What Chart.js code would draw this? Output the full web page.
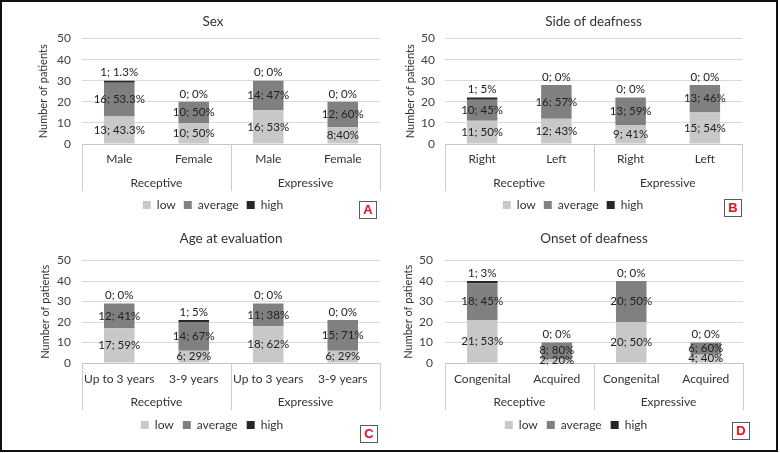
<!DOCTYPE html>
<html>
<head>
<meta charset="utf-8">
<title>Resultados por grupo</title>
<script src="https://cdn.jsdelivr.net/npm/chart.js@4.4.0/dist/chart.umd.min.js"></script>
<style>
    html, body { margin: 0; padding: 0; background: #fff; }
    #lienzo { position: relative; width: 780px; height: 453px; overflow: hidden; }
    .panel { position: absolute; width: 390px; height: 226px; }
    .marco { position: absolute; left: 0; top: 0; width: 774px; height: 448px; border: 2px solid #111; pointer-events: none; }
    .letra { position: absolute; width: 16px; height: 16px; border: 1px solid #5a5a5a; background: #fff;
             font: bold 13px 'Liberation Sans', Arial, sans-serif; color: #e3102f; text-align: center; line-height: 16px; }
</style>
</head>
<body>
<div id="lienzo">
    <div class="panel" style="left:0;top:0"><canvas id="graficaA"></canvas></div>
    <div class="panel" style="left:390px;top:0"><canvas id="graficaB"></canvas></div>
    <div class="panel" style="left:0;top:226px"><canvas id="graficaC"></canvas></div>
    <div class="panel" style="left:390px;top:226px"><canvas id="graficaD"></canvas></div>
    <div class="letra" style="left:359px;top:201px">A</div>
    <div class="letra" style="left:724px;top:199px">B</div>
    <div class="letra" style="left:360px;top:425px">C</div>
    <div class="letra" style="left:732px;top:422px">D</div>
    <div class="marco"></div>
</div>
<script>
// Datos comunes
var grupos = ['Receptive', 'Expressive'];
var series = ['low', 'average', 'high'];

// Panel A: sexo
var sexoCategorias = ['Male', 'Female', 'Male', 'Female'];
var sexoBajo = [13, 10, 16, 8];
var sexoMedio = [16, 10, 14, 12];
var sexoAlto = [1, 0, 0, 0];
var sexoTextoBajo = ['13; 43.3%', '10; 50%', '16; 53%', '8;40%'];
var sexoTextoMedio = ['16; 53.3%', '10; 50%', '14; 47%', '12; 60%'];
var sexoTextoAlto = ['1; 1.3%', '0; 0%', '0; 0%', '0; 0%'];

// Panel B: lado de la sordera
var ladoCategorias = ['Right', 'Left', 'Right', 'Left'];
var ladoBajo = [11, 12, 9, 15];
var ladoMedio = [10, 16, 13, 13];
var ladoAlto = [1, 0, 0, 0];
var ladoTextoBajo = ['11; 50%', '12; 43%', '9; 41%', '15; 54%'];
var ladoTextoMedio = ['10; 45%', '16; 57%', '13; 59%', '13; 46%'];
var ladoTextoAlto = ['1; 5%', '0; 0%', '0; 0%', '0; 0%'];

// Panel C: edad en la evaluación
var edadCategorias = ['Up to 3 years', '3-9 years', 'Up to 3 years', '3-9 years'];
var edadBajo = [17, 6, 18, 6];
var edadMedio = [12, 14, 11, 15];
var edadAlto = [0, 1, 0, 0];
var edadTextoBajo = ['17; 59%', '6; 29%', '18; 62%', '6; 29%'];
var edadTextoMedio = ['12; 41%', '14; 67%', '11; 38%', '15; 71%'];
var edadTextoAlto = ['0; 0%', '1; 5%', '0; 0%', '0; 0%'];

// Panel D: inicio de la sordera
var inicioCategorias = ['Congenital', 'Acquired', 'Congenital', 'Acquired'];
var inicioBajo = [21, 2, 20, 4];
var inicioMedio = [18, 8, 20, 6];
var inicioAlto = [1, 0, 0, 0];
var inicioTextoBajo = ['21; 53%', '2; 20%', '20; 50%', '4; 40%'];
var inicioTextoMedio = ['18; 45%', '8; 80%', '20; 50%', '6; 60%'];
var inicioTextoAlto = ['1; 3%', '0; 0%', '0; 0%', '0; 0%'];

Chart.defaults.font.family = "Lato, 'Noto Sans', sans-serif";
Chart.defaults.color = '#333333';

// Etiquetas "n; %" sobre cada segmento
var etiquetas = {
    id: 'etiquetas',
    afterDatasetsDraw: function (chart) {
        var ctx = chart.ctx;
        ctx.save();
        ctx.font = '11.5px Lato';
        ctx.fillStyle = '#222222';
        ctx.textAlign = 'center';
        ctx.textBaseline = 'middle';
        chart.data.datasets.forEach(function (ds, i) {
            chart.getDatasetMeta(i).data.forEach(function (barra, j) {
                var y = i === 2 ? barra.y - 8 : (barra.y + barra.base) / 2;
                ctx.fillText(ds.textos[j], barra.x, y);
            });
        });
        ctx.restore();
    }
};

// Líneas verticales de la tabla de categorías (estilo Excel)
var separadores = {
    id: 'separadores',
    afterDraw: function (chart) {
        var area = chart.chartArea;
        var x = chart.scales.x;
        var fin = chart.scales.x2.bottom;
        var medio = (x.getPixelForValue(1) + x.getPixelForValue(2)) / 2;
        var ctx = chart.ctx;
        ctx.save();
        ctx.strokeStyle = '#cccccc';
        ctx.lineWidth = 1;
        ctx.beginPath();
        [area.left, medio, area.right].forEach(function (px) {
            ctx.moveTo(Math.round(px) + 0.5, area.bottom);
            ctx.lineTo(Math.round(px) + 0.5, fin);
        });
        ctx.stroke();
        ctx.restore();
    }
};

function crearPanel(id, titulo, categorias, bajo, medio, alto, textoBajo, textoMedio, textoAlto, d) {
    var ctx = document.getElementById(id).getContext('2d');
    return new Chart(ctx, {
        type: 'bar',
        data: {
            labels: categorias,
            datasets: [
                { label: series[0], data: bajo, textos: textoBajo, backgroundColor: '#c8c8c8' },
                { label: series[1], data: medio, textos: textoMedio, backgroundColor: '#808080' },
                { label: series[2], data: alto, textos: textoAlto, backgroundColor: '#262626' }
            ]
        },
        options: {
            responsive: true,
            maintainAspectRatio: false,
            animation: false,
            events: [],
            datasets: { bar: { barPercentage: 0.41, categoryPercentage: 1, borderWidth: 0 } },
            layout: { padding: { left: d.izq, right: d.der, top: 0, bottom: d.abajo } },
            plugins: {
                tooltip: { enabled: false },
                title: {
                    display: true,
                    text: titulo,
                    fullSize: d.tituloCompleto,
                    color: '#333333',
                    font: { size: 13.5, weight: 'normal' },
                    padding: { top: d.tituloArriba, bottom: d.tituloAbajo }
                },
                legend: {
                    position: 'bottom',
                    labels: { boxWidth: 8, boxHeight: 8, padding: d.leyenda, font: { size: 12 }, color: '#333333' }
                }
            },
            scales: {
                x: {
                    stacked: true,
                    offset: true,
                    grid: { display: false, drawTicks: false },
                    border: { display: false },
                    ticks: { padding: d.rellenoX, font: { size: 12 }, color: '#333333', maxRotation: 0, autoSkip: false },
                    afterFit: function (escala) { escala.height = 30; }
                },
                x2: {
                    axis: 'x',
                    type: 'category',
                    labels: grupos,
                    position: 'bottom',
                    offset: true,
                    grid: { display: false, drawTicks: false },
                    border: { display: false },
                    ticks: { padding: 1.8, font: { size: 12 }, color: '#333333', maxRotation: 0 },
                    afterFit: function (escala) { escala.height = 17; }
                },
                y: {
                    stacked: true,
                    min: 0,
                    max: 50,
                    ticks: { stepSize: 10, padding: d.rellenoY, font: { size: 12 }, color: '#404040' },
                    grid: {
                        drawTicks: false,
                        color: function (c) { return c.tick && c.tick.value === 0 ? '#c4c4c4' : '#d9d9d9'; }
                    },
                    border: { display: false },
                    title: {
                        display: true,
                        text: 'Number of patients',
                        font: { size: 11 },
                        color: '#333333',
                        padding: { top: d.ejeTitulo, bottom: 0 }
                    },
                    afterFit: function (escala) { escala.width = d.anchoY; }
                }
            }
        },
        plugins: [etiquetas, separadores]
    });
}

// Paneles superiores (área de trazado 38-144) e inferiores (34-137)
crearPanel('graficaA', 'Sex', sexoCategorias, sexoBajo, sexoMedio, sexoAlto,
    sexoTextoBajo, sexoTextoMedio, sexoTextoAlto,
    { izq: 46, der: 10, anchoY: 36, ejeTitulo: -9.6, rellenoY: 11, tituloCompleto: true,
      tituloArriba: 13.2, tituloAbajo: 9.2, rellenoX: 7.8, leyenda: 8, abajo: 5 });

crearPanel('graficaB', 'Side of deafness', ladoCategorias, ladoBajo, ladoMedio, ladoAlto,
    ladoTextoBajo, ladoTextoMedio, ladoTextoAlto,
    { izq: 14, der: 38, anchoY: 41, ejeTitulo: -0.6, rellenoY: 10, tituloCompleto: false,
      tituloArriba: 13.2, tituloAbajo: 9.2, rellenoX: 7.8, leyenda: 8, abajo: 5 });

crearPanel('graficaC', 'Age at evaluation', edadCategorias, edadBajo, edadMedio, edadAlto,
    edadTextoBajo, edadTextoMedio, edadTextoAlto,
    { izq: 44, der: 10, anchoY: 38, ejeTitulo: -5.6, rellenoY: 11, tituloCompleto: false,
      tituloArriba: 4.2, tituloAbajo: 14.2, rellenoX: 8.8, leyenda: 9, abajo: 11 });

crearPanel('graficaD', 'Onset of deafness', inicioCategorias, inicioBajo, inicioMedio, inicioAlto,
    inicioTextoBajo, inicioTextoMedio, inicioTextoAlto,
    { izq: 19, der: 37, anchoY: 36, ejeTitulo: -7.1, rellenoY: 12, tituloCompleto: false,
      tituloArriba: 4.2, tituloAbajo: 14.2, rellenoX: 8.8, leyenda: 9, abajo: 11 });
</script>
</body>
</html>
